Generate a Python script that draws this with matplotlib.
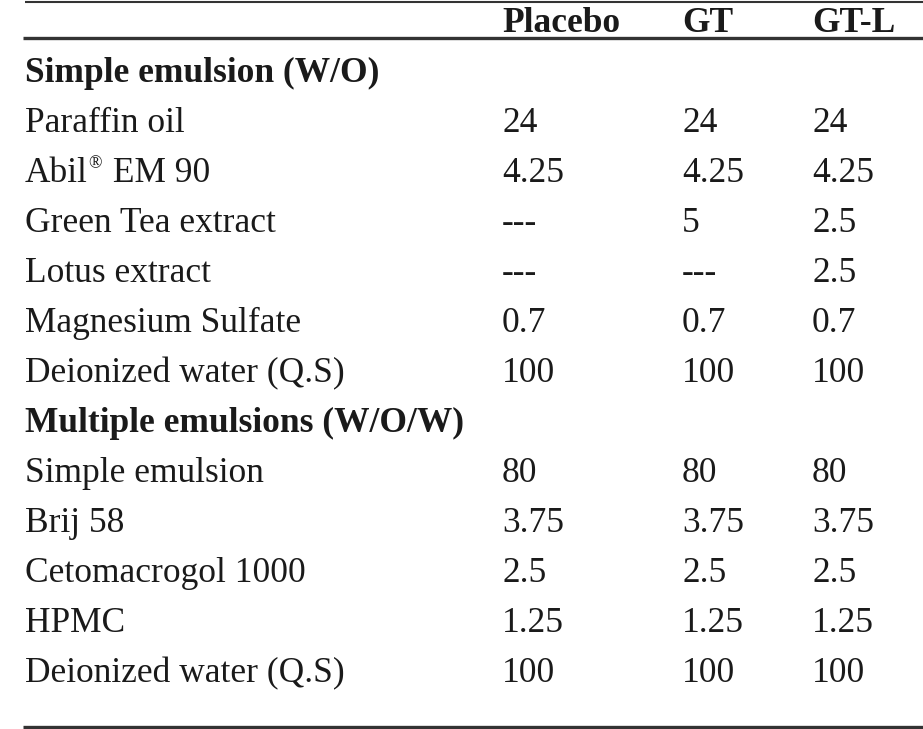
import matplotlib.pyplot as plt

plt.rcParams['font.family'] = ['Liberation Serif', 'DejaVu Serif']

# table content
columns = ['Placebo', 'GT', 'GT-L']

section1 = 'Simple emulsion (W/O)'
rows1 = ['Paraffin oil', 'Abil\u00ae EM 90', 'Green Tea extract', 'Lotus extract',
         'Magnesium Sulfate', 'Deionized water (Q.S)']
placebo1 = ['24', '4.25', '---', '---', '0.7', '100']
gt1 = ['24', '4.25', '5', '---', '0.7', '100']
gtl1 = ['24', '4.25', '2.5', '2.5', '0.7', '100']

section2 = 'Multiple emulsions (W/O/W)'
rows2 = ['Simple emulsion', 'Brij 58', 'Cetomacrogol 1000', 'HPMC', 'Deionized water (Q.S)']
placebo2 = ['80', '3.75', '2.5', '1.25', '100']
gt2 = ['80', '3.75', '2.5', '1.25', '100']
gtl2 = ['80', '3.75', '2.5', '1.25', '100']

#### Layout (pixel coords)
W, H = 923, 729
fs = 25.5
col_x = [502, 682, 812]
label_x = 25
base0 = 32      # baseline of header row
step = 50       # row spacing
ink = '#1a1a1a'

fig = plt.figure(figsize=(W/100., H/100.), dpi=100)
ax = fig.add_axes([0, 0, 1, 1])
ax.set_xlim(0, W)
ax.set_ylim(H, 0)
ax.axis('off')


def draw_label(y, label, bold):
    # the registered mark is drawn small and raised, like a superscript
    if '\u00ae' in label:
        head, tail = label.split('\u00ae')
        t = ax.text(label_x, y, head, fontsize=fs, va='baseline', color=ink)
        ax.annotate('\u00ae', xy=(1, 0), xycoords=t, xytext=(0.5, 13),
                    textcoords='offset points', fontsize=fs*0.5,
                    va='bottom', ha='left', color=ink)
        ax.annotate(tail, xy=(1, 0), xycoords=t, xytext=(11.5, 0),
                    textcoords='offset points', fontsize=fs,
                    va='bottom', ha='left', color=ink)
        return
    ax.text(label_x, y, label, fontsize=fs, va='baseline', color=ink,
            fontweight='bold' if bold else 'normal')


# header
for x, c in zip(col_x, columns):
    ax.text(x, base0, c, fontsize=fs, fontweight='bold', va='baseline', color=ink)

# build body as (label, values, bold)
body = [(section1, None, True)]
for i, r in enumerate(rows1):
    body.append((r, [placebo1[i], gt1[i], gtl1[i]], False))
body.append((section2, None, True))
for i, r in enumerate(rows2):
    body.append((r, [placebo2[i], gt2[i], gtl2[i]], False))

for k, (label, vals, bold) in enumerate(body):
    y = base0 + step*(k+1)
    draw_label(y, label, bold)
    if vals:
        for x, v in zip(col_x, vals):
            ax.text(x, y, v, fontsize=fs, va='baseline', color=ink)

# rules
ax.plot([25, W], [2, 2], color='#333333', lw=1.5, solid_capstyle='butt')
ax.plot([23, W], [38, 38], color='#333333', lw=2.4, solid_capstyle='butt')
ax.plot([23, W], [727, 727], color='#333333', lw=2.4, solid_capstyle='butt')

plt.savefig('out.png', dpi=100)
